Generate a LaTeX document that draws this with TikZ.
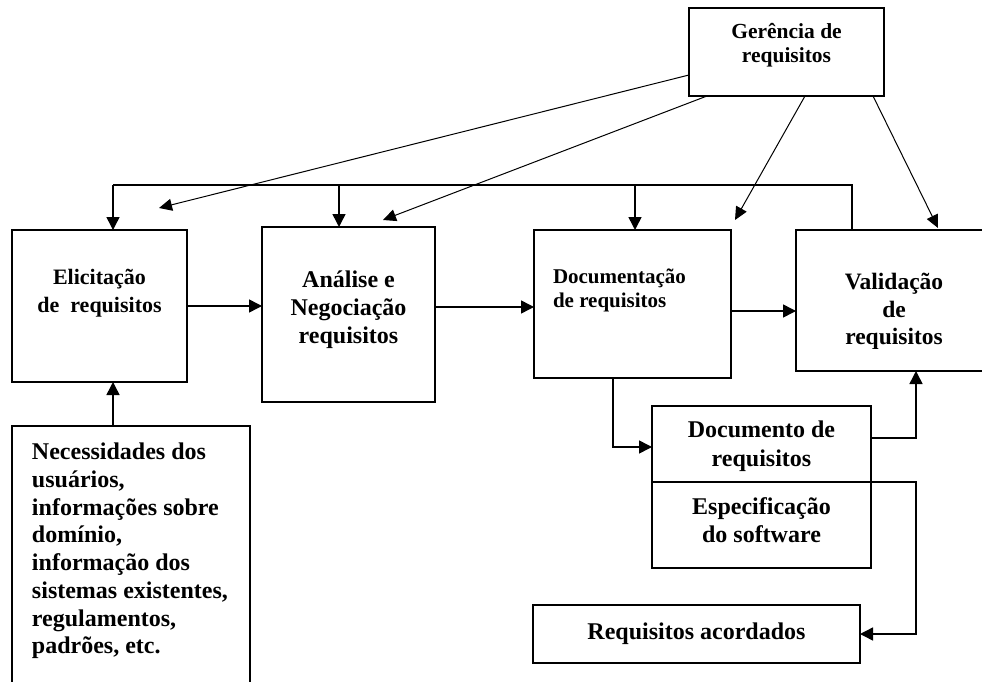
\documentclass[tikz,border=0pt]{standalone}
\usepackage{fontspec}
\setmainfont{Liberation Serif}
\usetikzlibrary{arrows.meta,calc}
\newcommand{\boxtxt}[5]{\parbox[c][#2pt][t]{#1pt}{#3\vspace*{#4pt}\strut #5\par}}
\begin{document}
\begin{tikzpicture}[x=1pt,y=-1pt,
  box/.style={draw, line width=1.5pt, inner sep=0pt, outer sep=0pt, font=\bfseries},
  conn/.style={line width=1.5pt, line join=miter},
  arr/.style={line width=1.5pt, line join=miter, -{Triangle[length=13pt,width=13pt]}},
  diag/.style={line width=1pt, -{Triangle[length=13pt,width=12pt]}}]
\useasboundingbox (0,0) rectangle (982,682);

% boxes
\node[box] (ger) at (786.5,52) {\boxtxt{195}{88}{\centering\fontsize{21.5}{24}\selectfont}{13.9}{Gerência de\\requisitos}};
\node[box] (eli) at (99.5,306) {\boxtxt{175}{152}{\centering\fontsize{22}{28}\selectfont}{34.4}{Elicitação\\de~~requisitos}};
\node[box] (ana) at (348.5,314.5) {\boxtxt{173}{175}{\centering\fontsize{24}{28}\selectfont}{41.1}{Análise e\\Negociação\\requisitos}};
\node[box] (doc) at (632.5,304) {\boxtxt{197}{148}{\raggedright\leftskip=19pt\fontsize{21}{24}\selectfont}{36.8}{Documentação\\de requisitos}};
\node[box] (val) at (894,300.5) {\boxtxt{196}{141}{\centering\fontsize{23.5}{27.5}\selectfont}{40.3}{Validação\\de\\requisitos}};
\node[box] (nec) at (131,573) {\boxtxt{238}{294}{\raggedright\leftskip=20pt\fontsize{24}{27.7}\selectfont}{14.5}{Necessidades dos\\usuários,\\informações sobre\\domínio,\\informação dos\\sistemas existentes,\\regulamentos,\\padrões, etc.}};
\node[box] (dr) at (761.5,444) {\boxtxt{219}{76}{\centering\fontsize{24}{28.5}\selectfont}{12}{Documento de\\requisitos}};
\node[box] (esp) at (761.5,525) {\boxtxt{219}{86}{\centering\fontsize{24}{28}\selectfont}{12.5}{Especificação\\do software}};
\node[box, minimum width=327pt, minimum height=58pt, font=\bfseries\fontsize{24}{28}\selectfont] (ra) at (696.5,634) {Requisitos acordados};

% named coordinates for connector bends and free ends
\coordinate (bR) at (852,185);
\coordinate (bL) at (113,185);
\coordinate (bA) at (339,185);
\coordinate (bD) at (635,185);
\coordinate (xV) at (916,0);
\coordinate (t1) at (159,208);
\coordinate (t2) at (383,220);
\coordinate (t3) at (735,220);
\coordinate (t4) at (938,228);

% main flow
\draw[arr] (bL |- nec.north) -- (bL |- eli.south);
\draw[arr] (eli.east) -- (eli.east -| ana.west);
\draw[arr] ([yshift=-3pt]doc.west -| ana.east) -- ([yshift=-3pt]doc.west);
\draw[arr] ([yshift=-7pt]doc.east) -- ([yshift=-7pt]doc.east -| val.west);
\draw[arr] ([xshift=-19.5pt]doc.south) |- ([yshift=-3pt]dr.west);
\draw[arr] ([yshift=6pt]dr.east) -| (xV |- val.south);
\draw[arr] (esp.north east) -| (xV |- ra.east) -- (ra.east);

% feedback bus from validation
\draw[conn] (bR |- val.north) -- (bR) -- (bL);
\draw[arr] (bL) -- (bL |- eli.north);
\draw[arr] (bA) -- (bA |- ana.north);
\draw[arr] (bD) -- (bD |- doc.north);

% requirements management
\draw[diag] ([yshift=-23pt]ger.west) -- (t1);
\draw[diag] ([xshift=18pt]ger.south west) -- (t2);
\draw[diag] ([xshift=116pt]ger.south west) -- (t3);
\draw[diag] ([xshift=184pt]ger.south west) -- (t4);
\end{tikzpicture}
\end{document}
